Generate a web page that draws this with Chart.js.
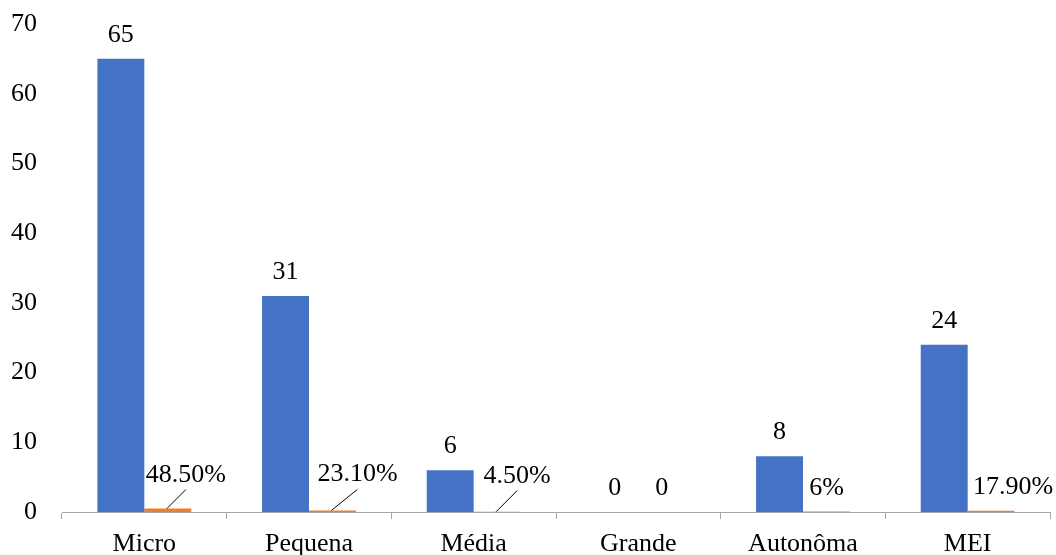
<!DOCTYPE html>
<html><head><meta charset="utf-8">
<script src="https://cdn.jsdelivr.net/npm/chart.js@4/dist/chart.umd.min.js"></script>
<style>html,body{margin:0;padding:0;background:#fff}#wrap{width:1056px;height:555px}</style>
</head><body><div id="wrap"><canvas id="c"></canvas></div>
<script>
const categories = ["Micro","Pequena","Média","Grande","Autonôma","MEI"];
const counts = [65,31,6,0,8,24];
const shares = [0.485,0.231,0.045,0,0.06,0.179];
const countLabels = ["65","31","6","0","8","24"];
const shareLabels = ["48.50%","23.10%","4.50%","0","6%","17.90%"];
const yTicks = [0,10,20,30,40,50,60,70];

const FONT = "'Liberation Serif','Times New Roman',serif";
// label placement styles for the orange series (dx, dy, leader line)
const shareLabelStyle = [
  {dx:18, dy:-10, leader:true},
  {dx:25, dy:-12, leader:true},
  {dx:20, dy:-12, leader:true},
  {dx:0, dy:0, leader:false},
  {dx:0, dy:0, leader:false},
  {dx:22, dy:0, leader:false}
];

const labelPlugin = {
  id:'labels',
  afterDatasetsDraw(chart){
    const ctx = chart.ctx;
    ctx.save();
    ctx.font = "26px " + FONT;
    ctx.fillStyle = '#000';
    ctx.textAlign = 'center';
    ctx.textBaseline = 'alphabetic';
    const m0 = chart.getDatasetMeta(0), m1 = chart.getDatasetMeta(1);
    m0.data.forEach((b,i)=>{
      ctx.fillText(countLabels[i], b.x, b.y - 17);
    });
    m1.data.forEach((b,i)=>{
      const s = shareLabelStyle[i];
      const lx = b.x + s.dx, ly = b.y - 17 + s.dy;
      ctx.fillText(shareLabels[i], lx, ly);
      if (s.leader){
        ctx.beginPath();
        ctx.strokeStyle = '#000';
        ctx.lineWidth = 1;
        ctx.moveTo(b.x - 1, b.y);
        ctx.lineTo(lx, ly + 8);
        ctx.stroke();
      }
    });
    ctx.restore();
  }
};

new Chart(document.getElementById('c'), {
  type:'bar',
  data:{
    labels: categories,
    datasets:[
      {label:'Quantidade', data: counts, backgroundColor:'#4472C4', categoryPercentage:0.57, barPercentage:1.0},
      {label:'Percentual', data: shares, backgroundColor:'#ED7D31', categoryPercentage:0.57, barPercentage:1.0}
    ]
  },
  options:{
    responsive:true, maintainAspectRatio:false, animation:false,
    layout:{padding:{top:24, right:6, left:0, bottom:0}},
    plugins:{legend:{display:false}, tooltip:{enabled:false}},
    scales:{
      x:{
        offset:true,
        grid:{display:true, offset:true, drawOnChartArea:false, drawTicks:true, tickLength:7, color:'#a6a6a6', lineWidth:1},
        border:{display:true, color:'#a6a6a6', width:1},
        ticks:{color:'#000', font:{family:FONT, size:26}, padding:10, maxRotation:0},
        afterFit(s){ s.height = 43; s.paddingLeft = 0; s.paddingRight = 0; }
      },
      y:{
        min:0, max:70,
        afterBuildTicks(s){ s.ticks = yTicks.map(v=>({value:v})); },
        grid:{display:false},
        border:{display:false},
        ticks:{color:'#000', font:{family:FONT, size:26}, padding:17},
        afterFit(s){ s.width = 62; s.paddingTop = 0; s.paddingBottom = 0; }
      }
    }
  },
  plugins:[labelPlugin]
});
</script>
</body></html>
